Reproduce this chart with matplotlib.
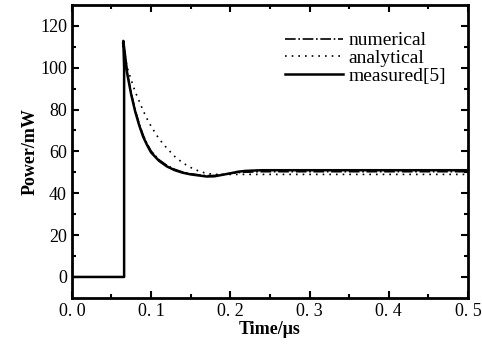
import matplotlib
matplotlib.use("Agg")
import matplotlib.pyplot as plt

plt.rcParams['font.family'] = ['Liberation Serif', 'DejaVu Serif']

# measured [5]
t_meas = [0.0, 0.066, 0.066, 0.065, 0.070, 0.075, 0.080, 0.085, 0.090, 0.095,
          0.100, 0.110, 0.120, 0.130, 0.140, 0.150, 0.160, 0.170, 0.180,
          0.190, 0.200, 0.210, 0.220, 0.240, 0.3, 0.4, 0.5]
p_meas = [0.0, 0.0, 100.0, 112.8, 97.0, 87.0, 79.0, 72.5, 67.0, 63.0,
          59.5, 55.5, 52.8, 51.0, 49.8, 49.0, 48.5, 48.0, 48.1,
          48.8, 49.5, 50.3, 50.7, 51.0, 51.0, 51.0, 51.0]

# numerical
t_num = [0.065, 0.070, 0.075, 0.080, 0.085, 0.090, 0.095, 0.100, 0.110,
         0.120, 0.130, 0.140, 0.150, 0.160, 0.170, 0.180, 0.190, 0.200,
         0.215, 0.240, 0.3, 0.4, 0.5]
p_num = [112.0, 97.5, 87.8, 79.8, 73.2, 67.8, 63.7, 60.2, 56.0,
         53.3, 51.4, 50.1, 49.3, 48.8, 48.4, 48.5, 49.0, 49.5,
         50.0, 50.3, 50.3, 50.3, 50.3]

# analytical
t_ana = [0.064, 0.070, 0.075, 0.080, 0.085, 0.090, 0.095, 0.100, 0.110,
         0.120, 0.130, 0.140, 0.150, 0.160, 0.170, 0.180, 0.200, 0.3, 0.4, 0.5]
p_ana = [112.0, 100.0, 94.0, 88.5, 84.0, 79.5, 75.5, 72.0, 66.0,
         61.5, 57.5, 54.5, 52.3, 50.6, 49.5, 49.0, 49.0, 49.0, 49.0, 49.0]

xticks = [0.0, 0.1, 0.2, 0.3, 0.4, 0.5]
xlabels = ['0. 0', '0. 1', '0. 2', '0. 3', '0. 4', '0. 5']
yticks = [0, 20, 40, 60, 80, 100, 120]

fig = plt.figure(figsize=(4.82, 3.48), dpi=100)
ax = fig.add_axes([0.149, 0.144, 0.822, 0.842])

ax.plot(t_num, p_num, color='black', lw=1.2, ls='-.', label='numerical')
ax.plot(t_ana, p_ana, color='black', lw=1.2, ls=(0, (1, 3)), label='analytical')
ax.plot(t_meas, p_meas, color='black', lw=1.8, ls='-', label='measured[5]')

ax.set_xlim(0, 0.5)
ax.set_ylim(-10, 130)
ax.set_xticks(xticks)
ax.set_xticklabels(xlabels)
ax.set_yticks(yticks)
ax.set_xticks([0.05, 0.15, 0.25, 0.35, 0.45], minor=True)
ax.set_yticks([10, 30, 50, 70, 90, 110], minor=True)
ax.tick_params(which='both', direction='in', top=True, right=True,
               labelsize=13, width=1.5)
ax.tick_params(which='major', length=5)
ax.tick_params(which='minor', length=3)
for s in ax.spines.values():
    s.set_linewidth(2)

ax.set_xlabel('Time/μs', fontsize=13, fontweight='bold', labelpad=1)
ax.set_ylabel('Power/mW', fontsize=13, fontweight='bold', labelpad=1)

ax.legend(loc='upper right', bbox_to_anchor=(0.965, 0.935), frameon=False,
          prop={'size': 14}, handlelength=3.0,
          handletextpad=0.3, labelspacing=0.0, borderaxespad=0)

fig.savefig('out.png', dpi=100)
